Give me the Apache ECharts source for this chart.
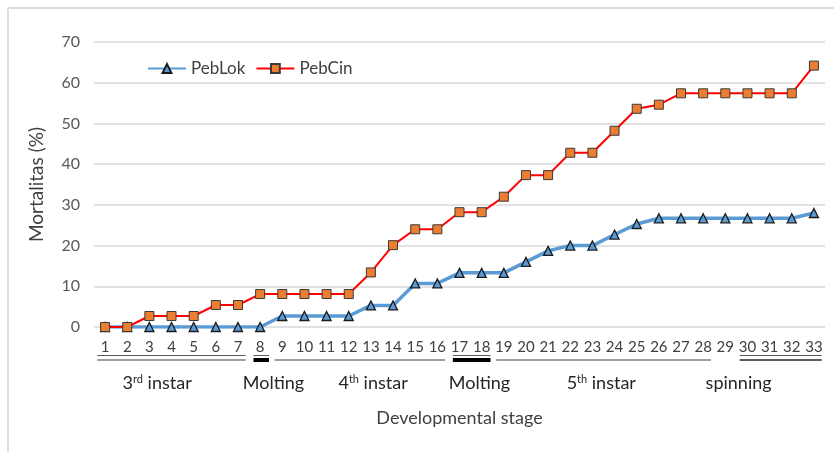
<!DOCTYPE html>
<html>
<head>
<meta charset="utf-8">
<script src="https://cdn.jsdelivr.net/npm/echarts@6/dist/echarts.min.js"></script>
<style>html,body{margin:0;padding:0;background:#fff}#c{width:834px;height:452px}</style>
</head>
<body>
<div id="c"></div>
<script>
const categories = ['1','2','3','4','5','6','7','8','9','10','11','12','13','14','15','16','17','18','19','20','21','22','23','24','25','26','27','28','29','30','31','32','33'];
const pebLok = [0,0,0,0,0,0,0,0,2.7,2.7,2.7,2.7,5.3,5.3,10.7,10.7,13.3,13.3,13.3,16,18.7,20,20,22.7,25.3,26.7,26.7,26.7,26.7,26.7,26.7,26.7,28];
const pebCin = [0,0,2.7,2.7,2.7,5.4,5.4,8.1,8.1,8.1,8.1,8.1,13.4,20.1,24,24,28.2,28.2,32,37.3,37.3,42.8,42.8,48.2,53.6,54.6,57.4,57.4,57.4,57.4,57.4,57.4,64.2];
const yTicks = [0,10,20,30,40,50,60,70];
// stage groups: [label rich text, first category, last category, line style key]
const stages = [
  {label:'{n|3}{s|rd}{n| instar}', from:'1', to:'7', line:'gray', underline:true},
  {label:'{n|Molting}', from:'8', to:'8', line:'thick', underline:true},
  {label:'{n|4}{s|th}{n| instar}', from:'9', to:'16', line:'thin', underline:false},
  {label:'{n|Molting}', from:'17', to:'18', line:'thick', underline:true},
  {label:'{n|5}{s|th}{n| instar}', from:'19', to:'28', line:'thin', underline:false},
  {label:'{n|spinning}', from:'30', to:'33', line:'mid', underline:true}
];
const labelCenters = ['3.35','8.6','13.1','17.9','23.4','29.6'];

const FONT = 'Lato, "Open Sans", sans-serif';
const chart = echarts.init(document.getElementById('c'));
chart.setOption({
  animation:false,
  backgroundColor:'#fff',
  textStyle:{fontFamily:FONT},
  grid:{left:94,right:9,top:42,bottom:125,containLabel:false},
  legend:{
    top:55,left:142,itemWidth:38,itemHeight:11,itemGap:10,
    textStyle:{fontSize:17,color:'#404040',fontFamily:FONT},
    data:['PebLok','PebCin']
  },
  xAxis:{
    type:'category',data:categories,boundaryGap:true,
    axisLine:{show:false},axisTick:{show:false},
    axisLabel:{interval:0,margin:13,fontSize:15,color:'#404040',fontFamily:FONT},
    name:'Developmental stage',nameLocation:'middle',nameGap:82,
    nameTextStyle:{fontSize:18,color:'#404040',fontFamily:FONT}
  },
  yAxis:{
    type:'value',min:0,max:70,interval:10,
    axisLine:{show:false},axisTick:{show:false},
    axisLabel:{fontSize:16,color:'#595959',margin:14,fontFamily:FONT,
      formatter:v=>yTicks.includes(v)?String(v):''},
    splitLine:{lineStyle:{color:'#d9d9d9',width:1.5}},
    name:'Mortalitas (%)',nameLocation:'middle',nameGap:48,nameRotate:90,
    nameTextStyle:{fontSize:19,color:'#404040',fontFamily:FONT}
  },
  series:[
    {name:'PebLok',type:'line',data:pebLok,symbol:'triangle',symbolSize:9,
     lineStyle:{color:'#5B9BD5',width:3.5},
     itemStyle:{color:'#5B9BD5',borderColor:'#1a1a1a',borderWidth:1.3},z:3},
    {name:'PebCin',type:'line',data:pebCin,symbol:'rect',symbolSize:9,
     lineStyle:{color:'#FF0000',width:2},
     itemStyle:{color:'#ED7D31',borderColor:'#3a3a3a',borderWidth:1},z:4}
  ]
});

function px(cat){return chart.convertToPixel({xAxisIndex:0},cat);}
const band = px('2')-px('1');
const y0 = chart.convertToPixel({yAxisIndex:0},0);
const graphics = [
  {type:'line',shape:{x1:8,y1:8,x2:834,y2:8},style:{stroke:'#dedede',lineWidth:2},silent:true},
  {type:'line',shape:{x1:8,y1:8,x2:8,y2:452},style:{stroke:'#dedede',lineWidth:2},silent:true}
];
const lineStyles = {
  gray:{stroke:'#7f7f7f',lineWidth:1.6},
  thick:{stroke:'#000',lineWidth:4},
  thin:{stroke:'#404040',lineWidth:1.2},
  mid:{stroke:'#262626',lineWidth:1.6}
};
stages.forEach((s,i)=>{
  let a = px(s.from)-band*0.35, b = px(s.to)+band*0.35;
  if(s.line==='thick'){a = px(s.from)-band*0.3; b = px(s.to)+band*0.4;}
  if(s.underline){
    graphics.push({type:'line',shape:{x1:a,y1:y0+28.5,x2:b,y2:y0+28.5},style:{stroke:'#595959',lineWidth:1},silent:true});
  }
  graphics.push({type:'line',shape:{x1:a,y1:y0+33,x2:b,y2:y0+33},style:lineStyles[s.line],silent:true});
  const ci = parseFloat(labelCenters[i]);
  const cx = px(String(Math.floor(ci))) + (ci-Math.floor(ci))*band;
  graphics.push({type:'text',x:cx,y:y0+56,silent:true,style:{
    text:s.label,align:'center',verticalAlign:'middle',
    rich:{n:{fontSize:18,fontFamily:FONT,fill:'#262626'},
          s:{fontSize:11,fontFamily:FONT,fill:'#262626',verticalAlign:'top',padding:[0,0,7,0]}}
  }});
});
chart.setOption({graphic:graphics});
</script>
</body>
</html>
